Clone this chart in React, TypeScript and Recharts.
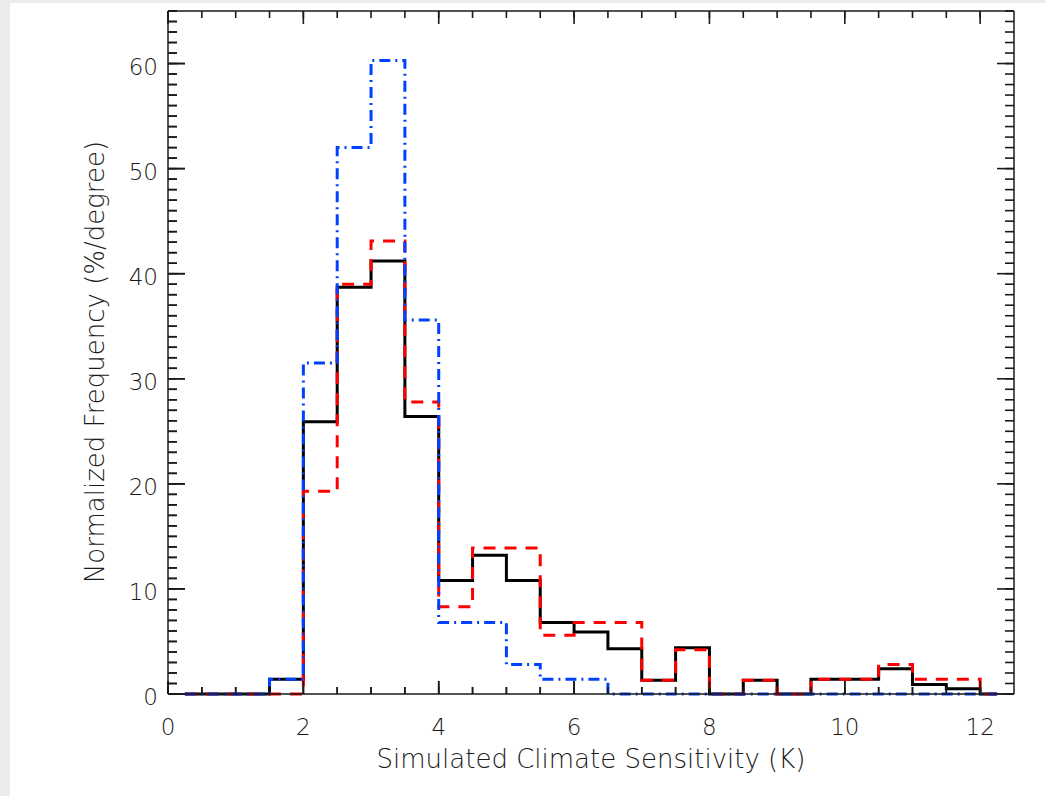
import React from "react";
import { LineChart, Line, XAxis, YAxis, ReferenceLine } from "recharts";

// histogram bin centres (K), bin width 0.5
const binCenters = [
  0.25, 0.75, 1.25, 1.75, 2.25, 2.75, 3.25, 3.75, 4.25, 4.75, 5.25, 5.75, 6.25,
  6.75, 7.25, 7.75, 8.25, 8.75, 9.25, 9.75, 10.25, 10.75, 11.25, 11.75, 12.25,
];

// normalized frequency (%/degree)
const blackSeries = [
  0, 0, 0, 1.4, 25.9, 38.7, 41.2, 26.4, 10.8, 13.2, 10.8, 6.8, 5.9, 4.3, 1.3,
  4.4, 0, 1.3, 0, 1.4, 1.4, 2.4, 0.9, 0.5, 0,
];
const redSeries = [
  0, 0, 0, 0, 19.3, 39.0, 43.1, 27.8, 8.3, 13.9, 13.9, 5.6, 6.8, 6.8, 1.3, 4.2,
  0, 1.3, 0, 1.4, 1.4, 2.8, 1.4, 1.4, 0,
];
const blueSeries = [
  0, 0, 0, 1.4, 31.5, 52.0, 60.3, 35.6, 6.8, 6.8, 2.8, 1.4, 1.4, 0, 0, 0, 0, 0,
  0, 0, 0, 0, 0, 0, 0,
];

const xMajorTicks = [0, 2, 4, 6, 8, 10, 12];
const yMajorTicks = [0, 10, 20, 30, 40, 50, 60];
const xMinorTicks = Array.from({ length: 25 }, (_, i) => i * 0.5);
const yMinorTicks = Array.from({ length: 66 }, (_, i) => i);

const xTitle = "Simulated Climate Sensitivity (K)";
const yTitle = "Normalized Frequency (%/degree)";

const data = binCenters.map((x, i) => ({
  x,
  all: blackSeries[i],
  red: redSeries[i],
  blue: blueSeries[i],
}));

const FONT = "'DejaVu Sans', sans-serif";
const INK = "#1a1a1a";
const TICK_W = 1.6;
const X_MINOR = 7;
const Y_MINOR = 9;
const tickLineStyle = { stroke: INK, strokeWidth: TICK_W };

// inner tick lengths for the bottom/left frame, in data units
const xTickLen = { major: 1.24, minor: 0.67 }; // along y (65 units over 684px)
const yTickLen = { major: 0.251, minor: 0.133 }; // along x (12.5 units over 846px)

const BottomTick = (props: any) => {
  const { x, y, payload } = props;
  if (!xMajorTicks.includes(payload.value)) return <g />;
  return (
    <g>
      <line x1={x} x2={x} y1={y} y2={y - 13} stroke={INK} strokeWidth={TICK_W} />
      <text x={x} y={y + 41} textAnchor="middle" fontSize={23} fontFamily={FONT} fontWeight={200} fill={INK}>
        {payload.value}
      </text>
    </g>
  );
};

const TopTick = (props: any) => {
  const { x, y, payload } = props;
  if (!xMajorTicks.includes(payload.value)) return <g />;
  return <line x1={x} x2={x} y1={y} y2={y + 13} stroke={INK} strokeWidth={TICK_W} />;
};

const LeftTick = (props: any) => {
  const { x, y, payload } = props;
  if (!yMajorTicks.includes(payload.value)) return <g />;
  return (
    <g>
      <line x1={x} x2={x + 17} y1={y} y2={y} stroke={INK} strokeWidth={TICK_W} />
      <text x={x - 10} y={y + 11} textAnchor="end" fontSize={23} fontFamily={FONT} fontWeight={200} fill={INK}>
        {payload.value}
      </text>
    </g>
  );
};

const RightTick = (props: any) => {
  const { x, y, payload } = props;
  if (!yMajorTicks.includes(payload.value)) return <g />;
  return <line x1={x} x2={x - 17} y1={y} y2={y} stroke={INK} strokeWidth={TICK_W} />;
};

export default function App() {
  return (
    <div style={{ position: "absolute", left: 0, top: 0, width: 1046, height: 796, background: "#ececec" }}>
      <div style={{ position: "absolute", left: 10, top: 3, width: 1036, height: 793, background: "#fff" }} />
      <div style={{ position: "absolute", left: 0, top: 0 }}>
        <LineChart width={1046} height={796} data={data} margin={{ top: 10, right: 31, bottom: 0, left: 0 }}>
          <XAxis
            dataKey="x"
            type="number"
            domain={[0, 12.5]}
            ticks={xMinorTicks}
            interval={0}
            height={102}
            tickSize={-X_MINOR}
            tickMargin={X_MINOR}
            tickLine={tickLineStyle}
            axisLine={{ stroke: INK, strokeWidth: 1.5 }}
            tick={BottomTick}
          />
          <XAxis
            xAxisId="top"
            orientation="top"
            dataKey="x"
            type="number"
            domain={[0, 12.5]}
            ticks={xMinorTicks}
            interval={0}
            height={1}
            tickSize={-X_MINOR}
            tickMargin={X_MINOR}
            tickLine={tickLineStyle}
            axisLine={{ stroke: INK, strokeWidth: 1.5 }}
            tick={TopTick}
          />
          <YAxis
            type="number"
            domain={[0, 65]}
            ticks={yMinorTicks}
            interval={0}
            width={168}
            tickSize={-Y_MINOR}
            tickMargin={Y_MINOR}
            tickLine={tickLineStyle}
            axisLine={{ stroke: INK, strokeWidth: 1.5 }}
            tick={LeftTick}
          />
          <YAxis
            yAxisId="right"
            orientation="right"
            dataKey="blue"
            type="number"
            domain={[0, 65]}
            ticks={yMinorTicks}
            interval={0}
            width={1}
            tickSize={-Y_MINOR}
            tickMargin={Y_MINOR}
            tickLine={tickLineStyle}
            axisLine={{ stroke: INK, strokeWidth: 1.5 }}
            tick={RightTick}
          />
          {xMinorTicks.map((v) => (
            <ReferenceLine
              key={`bx${v}`}
              segment={[
                { x: v, y: 0 },
                { x: v, y: xMajorTicks.includes(v) ? xTickLen.major : xTickLen.minor },
              ]}
              stroke={INK}
              strokeWidth={TICK_W}
              ifOverflow="visible"
            />
          ))}
          {yMinorTicks.map((v) => (
            <ReferenceLine
              key={`ly${v}`}
              segment={[
                { x: 0, y: v },
                { x: yMajorTicks.includes(v) ? yTickLen.major : yTickLen.minor, y: v },
              ]}
              stroke={INK}
              strokeWidth={TICK_W}
              ifOverflow="visible"
            />
          ))}
          <Line type="step" dataKey="all" stroke="#000" strokeWidth={3} dot={false} isAnimationActive={false} />
          <Line type="step" dataKey="red" stroke="#ff0000" strokeWidth={3} strokeDasharray="12 9" dot={false} isAnimationActive={false} />
          <Line type="step" dataKey="blue" stroke="#0040ff" strokeWidth={3} strokeDasharray="11 5 2 5" dot={false} isAnimationActive={false} />
        </LineChart>
      </div>
      <svg width={1046} height={796} style={{ position: "absolute", left: 0, top: 0, pointerEvents: "none" }}>
        <text x={591} y={768} textAnchor="middle" fontSize={26} fontFamily={FONT} fontWeight={200} fill={INK}>
          {xTitle}
        </text>
        <text x={104} y={362} transform="rotate(-90 104 362)" textAnchor="middle" fontSize={26} fontFamily={FONT} fontWeight={200} fill={INK}>
          {yTitle}
        </text>
      </svg>
    </div>
  );
}
